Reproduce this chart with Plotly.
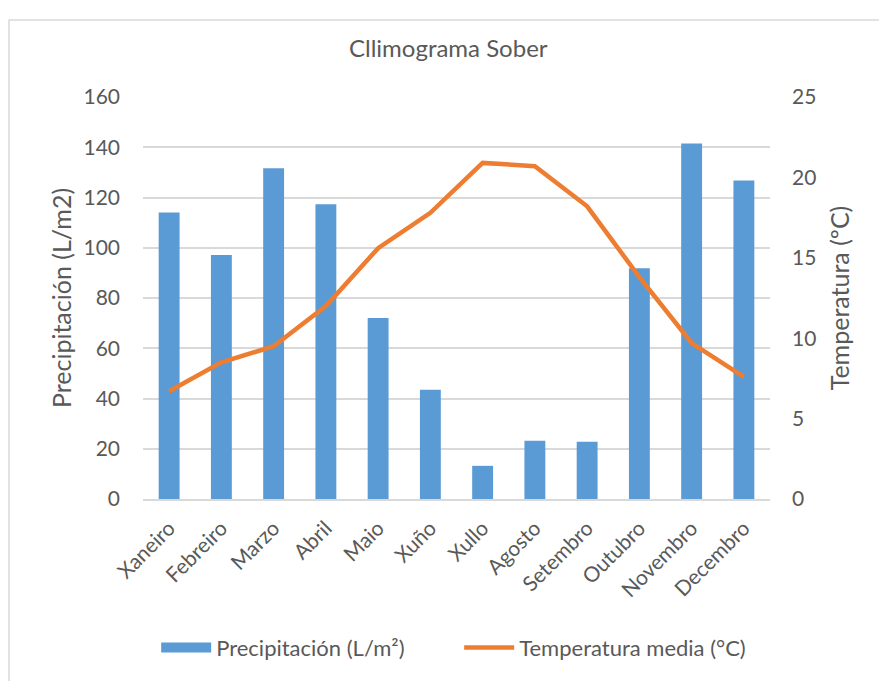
import plotly.graph_objects as go

months = ["Xaneiro", "Febreiro", "Marzo", "Abril", "Maio", "Xuño", "Xullo",
          "Agosto", "Setembro", "Outubro", "Novembro", "Decembro"]
precipitation = [114.0, 97.1, 131.6, 117.3, 72.0, 43.5, 13.2, 23.2, 22.8, 91.8, 141.5, 126.8]
temperature = [6.7, 8.5, 9.5, 12.0, 15.6, 17.8, 20.9, 20.7, 18.2, 13.8, 9.7, 7.6]
left_ticks = [0, 20, 40, 60, 80, 100, 120, 140, 160]
right_ticks = [0, 5, 10, 15, 20, 25]

FONT = "Lato, 'Open Sans', sans-serif"
GRAY = "#595959"
BLUE = "#5B9BD5"
ORANGE = "#ED7D31"

fig = go.Figure()
fig.add_trace(go.Bar(x=months, y=precipitation, name="Precipitación (L/m²)",
                     marker=dict(color=BLUE, line=dict(width=0)), showlegend=False))
# legend entry drawn as a wide rectangle, like the reference
fig.add_trace(go.Scatter(x=[None], y=[None], name="Precipitación (L/m²)", mode="lines",
                         line=dict(color=BLUE, width=14)))
fig.add_trace(go.Scatter(x=months, y=temperature, name="Temperatura media (°C)",
                         mode="lines", line=dict(color=ORANGE, width=4.5),
                         yaxis="y2"))

fig.update_layout(
    width=879, height=681,
    paper_bgcolor="white", plot_bgcolor="white",
    margin=dict(l=143, r=109, t=97, b=180),
    font=dict(family=FONT, color=GRAY, size=21),
    title=dict(text="Cllimograma Sober", x=0.51, xanchor="center", y=0.928, yanchor="middle",
               font=dict(size=24, color=GRAY, family=FONT)),
    bargap=0.6,
    showlegend=True,
    legend=dict(orientation="h", x=0.021, xanchor="left", y=-0.37, yanchor="middle",
                font=dict(size=22, color=GRAY), itemwidth=50, entrywidth=238,
                tracegroupgap=0),
    xaxis=dict(tickangle=-45, showgrid=False, showline=True, linecolor="#D9D9D9",
               linewidth=1.5, ticks="", tickfont=dict(size=21, color=GRAY),
               ticklabelstandoff=7),
    yaxis=dict(range=[0, 160], tickvals=left_ticks, showgrid=True, gridcolor="#D9D9D9",
               gridwidth=1.5, zeroline=False, showline=False, ticks="",
               ticklabelstandoff=22,
               title=dict(text="Precipitación (L/m2)", font=dict(size=25, color=GRAY), standoff=4),
               tickfont=dict(size=21, color=GRAY)),
    yaxis2=dict(range=[0, 25], tickvals=right_ticks, overlaying="y", side="right",
                showgrid=False, zeroline=False, showline=False, ticks="",
                ticklabelstandoff=21,
                title=dict(text="Temperatura (ºC)", font=dict(size=25, color=GRAY), standoff=16),
                tickfont=dict(size=21, color=GRAY)),
    shapes=[dict(type="rect", xref="paper", yref="paper",
                 x0=-0.2137, x1=1.4, y0=-0.6, y1=1.1916,
                 line=dict(color="#D9D9D9", width=1.5), fillcolor="rgba(0,0,0,0)", layer="below")],
)

fig.write_html("out.html", config={"displayModeBar": False},
               post_script="document.body.style.margin='0';")
